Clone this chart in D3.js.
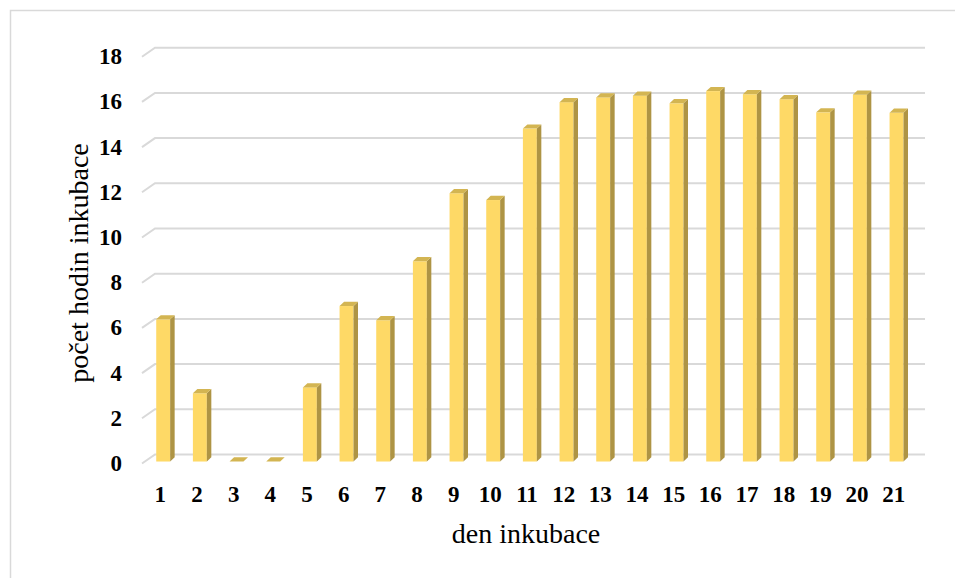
<!DOCTYPE html>
<html>
<head>
<meta charset="utf-8">
<script src="https://cdn.jsdelivr.net/npm/d3@7/dist/d3.min.js"></script>
<style>
  html, body { margin: 0; padding: 0; background: #ffffff; }
  svg { display: block; }
</style>
</head>
<body>
<svg id="chart" width="955" height="578"></svg>
<script>
// Incubation day categories and hours of incubation per day
const days = ["1","2","3","4","5","6","7","8","9","10","11","12","13","14","15","16","17","18","19","20","21"];
const hours = [6.29, 3.02, 0, 0, 3.28, 6.88, 6.25, 8.86, 11.87, 11.57, 14.73, 15.9, 16.11, 16.19, 15.85, 16.39, 16.25, 16.03, 15.45, 16.23, 15.43];
const yTicks = [0, 2, 4, 6, 8, 10, 12, 14, 16, 18];
const xTitle = "den inkubace";
const yTitle = "počet hodin inkubace";

const FONT = "'Liberation Serif', 'Times New Roman', Times, serif";

const svg = d3.select("#chart");

// outer chart border (extends past the right/bottom edge)
svg.append("rect")
  .attr("x", 10.5).attr("y", 10.5)
  .attr("width", 1000).attr("height", 1000)
  .attr("fill", "none").attr("stroke", "#d9d9d9").attr("stroke-width", 1.5);

// front plane scales
const x = d3.scaleBand().domain(days).range([142, 912]).paddingInner(0.62).paddingOuter(0.31);
const y = d3.scaleLinear().domain([0, 18]).range([463.5, 56.7]);

// depth offset from front plane to back wall
const depth = { dx: 13, dy: -9 };
const wallRight = 925;

// gridlines on back wall + diagonals on the left side wall
const grid = svg.append("g").attr("fill", "none").attr("stroke", "#d9d9d9").attr("stroke-width", 2);
yTicks.forEach(v => {
  const yf = y(v);
  grid.append("path")
    .attr("d", `M${x.range()[0]},${yf} L${x.range()[0] + depth.dx},${yf + depth.dy} L${wallRight},${yf + depth.dy}`);
});

// 3D bars
const t = 0.22;                 // bar position within depth
const off = { dx: depth.dx * t, dy: depth.dy * t };
const bar = { dx: 4.5, dy: -4.2 };
const colors = { front: "#fed966", side: "#ae9444", top: "#d3b552" };

const bars = svg.append("g");
days.forEach((d, i) => {
  const xl = x(d) + off.dx;
  const xr = xl + x.bandwidth();
  const yb = y(0) + off.dy;
  const yt = y(hours[i]) + off.dy;
  const g = bars.append("g");
  if (yb - yt > 0) {
    g.append("rect")
      .attr("x", xl).attr("y", yt)
      .attr("width", xr - xl).attr("height", yb - yt)
      .attr("fill", colors.front);
    g.append("path")
      .attr("d", `M${xr},${yt} L${xr + bar.dx},${yt + bar.dy} L${xr + bar.dx},${yb + bar.dy} L${xr},${yb} Z`)
      .attr("fill", colors.side);
  }
  g.append("path")
    .attr("d", `M${xl},${yt} L${xl + bar.dx},${yt + bar.dy} L${xr + bar.dx},${yt + bar.dy} L${xr},${yt} Z`)
    .attr("fill", colors.top);
});

// y tick labels
svg.append("g").selectAll("text").data(yTicks).join("text")
  .attr("x", 122).attr("y", v => y(v))
  .attr("text-anchor", "end").attr("dominant-baseline", "central")
  .style("font-family", FONT).style("font-size", "23px").style("font-weight", "bold")
  .attr("fill", "#000")
  .text(v => v);

// x tick labels
svg.append("g").selectAll("text").data(days).join("text")
  .attr("x", d => x(d) + x.bandwidth() / 2)
  .attr("y", 494)
  .attr("text-anchor", "middle").attr("dominant-baseline", "central")
  .style("font-family", FONT).style("font-size", "23px").style("font-weight", "bold")
  .attr("fill", "#000")
  .text(d => d);

// axis titles
svg.append("text")
  .attr("x", 526).attr("y", 543)
  .attr("text-anchor", "middle")
  .style("font-family", FONT).style("font-size", "28px")
  .attr("fill", "#000")
  .text(xTitle);

svg.append("text")
  .attr("transform", "translate(88,263) rotate(-90)")
  .attr("text-anchor", "middle")
  .style("font-family", FONT).style("font-size", "28px")
  .attr("fill", "#000")
  .text(yTitle);
</script>
</body>
</html>
